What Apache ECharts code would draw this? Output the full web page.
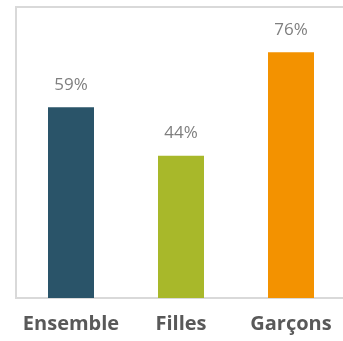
<!DOCTYPE html>
<html>
<head>
<meta charset="utf-8">
<script src="https://cdn.jsdelivr.net/npm/echarts@6/dist/echarts.min.js"></script>
<style>
  html, body { margin: 0; padding: 0; background: #fff; }
  #main { width: 343px; height: 341px; }
</style>
</head>
<body>
<div id="main"></div>
<script>
var categories = ['Ensemble', 'Filles', 'Garçons'];
var values = [59, 44, 76];
var barColors = ['#2a5469', '#a8b82a', '#f39200'];

var myChart = echarts.init(document.getElementById('main'));
myChart.setOption({
    animation: false,
    grid: {
        left: 16, top: 7, width: 330, height: 291,
        outerBoundsMode: 'none',
        containLabel: false,
        show: true,
        borderColor: '#d9d9d9',
        borderWidth: 2
    },
    xAxis: {
        type: 'category',
        data: categories,
        axisTick: { show: false },
        axisLine: { lineStyle: { color: '#d9d9d9', width: 2 } },
        axisLabel: {
            interval: 0,
            margin: 16,
            color: '#595959',
            fontFamily: 'Open Sans',
            fontWeight: 'bold',
            fontSize: 20
        }
    },
    yAxis: {
        type: 'value',
        min: 0,
        max: 90,
        show: false
    },
    series: [{
        type: 'bar',
        barWidth: 46,
        data: values.map(function (v, i) {
            return { value: v, itemStyle: { color: barColors[i] } };
        }),
        label: {
            show: true,
            position: 'top',
            distance: 14,
            formatter: '{c}%',
            color: '#7f7f7f',
            fontFamily: 'Open Sans',
            fontSize: 17
        }
    }]
});
</script>
</body>
</html>
